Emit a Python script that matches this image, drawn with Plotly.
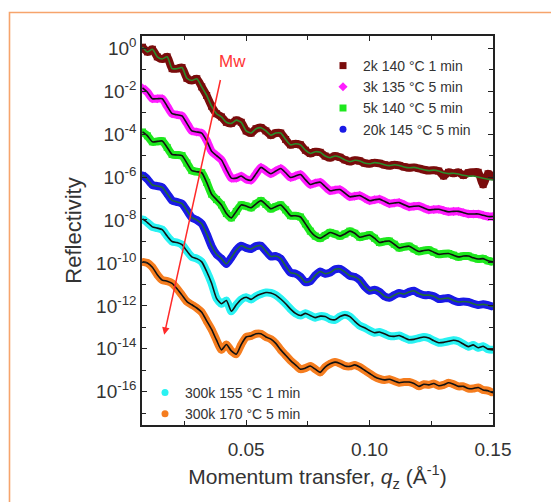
import plotly.graph_objects as go

# Momentum transfer grid (1/Å)
Q = [0.008, 0.010, 0.012, 0.014, 0.016, 0.018, 0.020, 0.022, 0.024, 0.026,
     0.028, 0.030, 0.032, 0.034, 0.036, 0.038, 0.040, 0.042, 0.044, 0.046,
     0.048, 0.050, 0.052, 0.054, 0.056, 0.058, 0.060, 0.062, 0.064, 0.066,
     0.068, 0.070, 0.072, 0.074, 0.076, 0.078, 0.080, 0.082, 0.084, 0.086,
     0.088, 0.090, 0.092, 0.094, 0.096, 0.098, 0.100, 0.102, 0.104, 0.106,
     0.108, 0.110, 0.112, 0.114, 0.116, 0.118, 0.120, 0.122, 0.124, 0.126,
     0.128, 0.130, 0.132, 0.134, 0.136, 0.138, 0.140, 0.142, 0.144, 0.146,
     0.148, 0.150]

# log10 reflectivity, curves offset by two decades each
LOG_R_2K = [0.05, -0.17, -0.05, -0.40, -0.50, -0.40, -0.95, -0.95, -0.90, -1.40,
            -1.50, -1.42, -1.80, -2.20, -2.70, -3.05, -3.20, -3.45, -3.50, -3.35,
            -3.45, -3.85, -3.95, -3.75, -3.70, -3.85, -4.05, -3.95, -3.95, -4.25,
            -4.50, -4.45, -4.50, -4.75, -4.90, -4.82, -4.85, -5.02, -5.10, -5.02,
            -5.08, -5.20, -5.28, -5.22, -5.25, -5.35, -5.38, -5.33, -5.36, -5.43,
            -5.47, -5.43, -5.46, -5.53, -5.57, -5.55, -5.60, -5.66, -5.70, -5.68,
            -5.72, -5.95, -5.78, -5.82, -5.78, -5.92, -5.80, -5.78, -5.78, -6.35,
            -5.85, -5.98]
LOG_R_2K_FIT = [0.05, -0.17, -0.05, -0.40, -0.50, -0.40, -0.95, -0.95, -0.90, -1.40,
                -1.50, -1.42, -1.80, -2.20, -2.70, -3.05, -3.20, -3.45, -3.50, -3.35,
                -3.45, -3.85, -3.95, -3.75, -3.70, -3.85, -4.05, -3.95, -3.95, -4.25,
                -4.50, -4.45, -4.50, -4.75, -4.90, -4.82, -4.85, -5.02, -5.10, -5.02,
                -5.08, -5.20, -5.28, -5.22, -5.25, -5.35, -5.38, -5.33, -5.36, -5.43,
                -5.47, -5.43, -5.46, -5.53, -5.57, -5.55, -5.60, -5.66, -5.70, -5.68,
                -5.72, -5.80, -5.84, -5.82, -5.86, -5.92, -5.96, -5.95, -6.00, -6.06,
                -6.10, -6.14]
LOG_R_3K = [-1.85, -2.05, -2.35, -2.35, -2.35, -2.70, -3.05, -3.10, -3.15, -3.50,
            -3.85, -3.90, -3.95, -4.30, -4.80, -5.00, -5.20, -5.65, -6.05, -6.05,
            -5.95, -6.10, -6.15, -5.85, -5.55, -5.70, -5.85, -5.72, -5.60, -5.80,
            -6.02, -5.95, -5.88, -6.12, -6.35, -6.28, -6.24, -6.44, -6.64, -6.60,
            -6.58, -6.75, -6.92, -6.89, -6.86, -6.98, -7.10, -7.06, -7.03, -7.13,
            -7.24, -7.21, -7.19, -7.29, -7.39, -7.36, -7.35, -7.44, -7.53, -7.51,
            -7.50, -7.56, -7.62, -7.60, -7.60, -7.66, -7.72, -7.72, -7.72, -7.78,
            -7.84, -7.84]
LOG_R_5K = [-3.90, -4.08, -4.36, -4.34, -4.32, -4.62, -4.95, -4.97, -5.00, -5.35,
            -5.70, -5.75, -5.80, -6.25, -6.80, -7.05, -7.30, -7.70, -7.90, -7.60,
            -7.30, -7.35, -7.43, -7.25, -7.10, -7.28, -7.48, -7.38, -7.30, -7.53,
            -7.80, -7.80, -7.86, -8.18, -8.52, -8.75, -8.85, -8.72, -8.58, -8.65,
            -8.75, -8.65, -8.52, -8.62, -8.80, -8.75, -8.70, -8.85, -9.05, -9.00,
            -8.98, -9.13, -9.30, -9.25, -9.22, -9.35, -9.47, -9.42, -9.40, -9.50,
            -9.60, -9.57, -9.56, -9.64, -9.72, -9.68, -9.68, -9.76, -9.82, -9.80,
            -9.90, -9.95]
LOG_R_20K = [-5.90, -6.10, -6.37, -6.42, -6.48, -6.78, -7.09, -7.16, -7.24, -7.56,
             -7.89, -8.00, -8.18, -8.65, -9.22, -9.60, -9.80, -10.05, -9.75, -9.40,
             -9.20, -9.30, -9.35, -9.22, -9.20, -9.45, -9.70, -9.68, -9.80, -10.15,
             -10.45, -10.50, -10.65, -10.90, -10.85, -10.58, -10.40, -10.50, -10.45, -10.30,
             -10.28, -10.42, -10.60, -10.65, -10.80, -11.10, -11.30, -11.25, -11.35, -11.55,
             -11.62, -11.50, -11.40, -11.45, -11.35, -11.30, -11.42, -11.50, -11.50, -11.55,
             -11.68, -11.66, -11.64, -11.75, -11.82, -11.80, -11.82, -11.90, -11.96, -11.93,
             -11.97, -12.04]
LOG_R_300K_155 = [-7.95, -8.12, -8.32, -8.38, -8.45, -8.75, -9.00, -9.05, -9.15, -9.45,
                  -9.72, -9.80, -9.95, -10.40, -10.95, -11.65, -11.90, -11.75, -12.25, -11.95,
                  -11.70, -11.60, -11.70, -11.55, -11.45, -11.38, -11.40, -11.50, -11.68, -11.90,
                  -12.15, -12.35, -12.45, -12.35, -12.45, -12.55, -12.48, -12.50, -12.62, -12.65,
                  -12.50, -12.42, -12.50, -12.72, -12.92, -13.02, -13.15, -13.25, -13.22, -13.30,
                  -13.40, -13.42, -13.38, -13.48, -13.58, -13.56, -13.50, -13.45, -13.50, -13.62,
                  -13.72, -13.70, -13.65, -13.60, -13.65, -13.78, -13.90, -13.82, -13.95, -13.88,
                  -14.02, -14.05]
LOG_R_300K_170 = [-9.95, -10.00, -10.20, -10.55, -10.80, -10.85, -10.95, -11.20, -11.50, -11.80,
                  -11.95, -12.10, -12.30, -12.70, -13.10, -13.60, -14.05, -13.80, -14.10, -14.25,
                  -13.80, -13.45, -13.40, -13.30, -13.30, -13.45, -13.55, -13.75, -14.05, -14.30,
                  -14.55, -14.75, -14.95, -14.90, -14.80, -14.95, -15.10, -14.85, -14.70, -14.62,
                  -14.68, -14.80, -14.82, -14.75, -14.85, -15.00, -15.15, -15.30, -15.40, -15.45,
                  -15.42, -15.50, -15.58, -15.55, -15.55, -15.62, -15.75, -15.65, -15.68, -15.62,
                  -15.72, -15.68, -15.58, -15.65, -15.75, -15.75, -15.85, -15.85, -15.80, -15.92,
                  -15.95, -16.05]

NAMES = ["2k 140 °C 1 min", "3k 135 °C 5 min", "5k 140 °C 5 min",
         "20k 145 °C 5 min", "300k 155 °C 1 min", "300k 170 °C 5 min"]
DATA = [LOG_R_2K, LOG_R_3K, LOG_R_5K, LOG_R_20K, LOG_R_300K_155, LOG_R_300K_170]
FITS = [LOG_R_2K_FIT, LOG_R_3K, LOG_R_5K, LOG_R_20K, LOG_R_300K_155, LOG_R_300K_170]
COLORS = ["#7a0c0c", "#ff1cff", "#1ee81e", "#1a1ae6", "#2af2f2", "#f57d1f"]
FIT_COLORS = ["#2a8c2a", "#111111", "#111111", "#1f6a3a", "#111111", "#111111"]
SYMBOLS = ["square", "diamond", "square", "circle", "circle", "circle"]
LEGENDS = ["legend", "legend", "legend", "legend", "legend2", "legend2"]

Y_TICKS = [1e0, 1e-2, 1e-4, 1e-6, 1e-8, 1e-10, 1e-12, 1e-14, 1e-16]
Y_TICKTEXT = ["10<sup>0</sup>", "10<sup>-2</sup>", "10<sup>-4</sup>", "10<sup>-6</sup>",
              "10<sup>-8</sup>", "10<sup>-10</sup>", "10<sup>-12</sup>",
              "10<sup>-14</sup>", "10<sup>-16</sup>"]
Y_MINOR = [1e-1, 1e-3, 1e-5, 1e-7, 1e-9, 1e-11, 1e-13, 1e-15, 1e-17]
X_TICKS = [0.05, 0.10, 0.15]
X_TICKTEXT = ["0.05", "0.10", "0.15"]
X_MINOR = [0.025, 0.075, 0.125]

FONT = "Liberation Sans, Arial, sans-serif"
TEXT = "#333333"
W, H = 551, 502
ML, MR, MT, MB = 142, 58, 36, 77
PW, PH = W - ML - MR, H - MT - MB


def px_x(p):
    return (p - ML) / PW


def px_y(p):
    return (H - MB - p) / PH


fig = go.Figure()
for name, d, f, c, fc, sym, lg in zip(NAMES, DATA, FITS, COLORS, FIT_COLORS, SYMBOLS, LEGENDS):
    r = [10 ** v for v in d]
    rf = [10 ** v for v in f]
    # measured points: a broad band plus markers
    fig.add_trace(go.Scatter(x=Q, y=r, mode="lines", showlegend=False, hoverinfo="skip",
                             line=dict(color=c, width=8, shape="spline", smoothing=0.6)))
    fig.add_trace(go.Scatter(x=Q, y=r, mode="markers", name=name, legend=lg,
                             marker=dict(color=c, size=7, symbol=sym, line=dict(width=0))))
    # model fit drawn on top
    fig.add_trace(go.Scatter(x=Q, y=rf, mode="lines", showlegend=False, hoverinfo="skip",
                             line=dict(color=fc, width=1.6, shape="spline", smoothing=0.6)))

axis_common = dict(showline=True, linecolor="#222222", linewidth=1.5, mirror="allticks",
                   ticks="inside", ticklen=5, tickwidth=1.3, tickcolor="#222222",
                   showgrid=False, zeroline=False,
                   tickfont=dict(family=FONT, size=19, color=TEXT))

fig.update_xaxes(range=[0.0078, 0.15], tickmode="array", tickvals=X_TICKS, ticktext=X_TICKTEXT,
                 ticklabelstandoff=6,
                 minor=dict(tickmode="array", tickvals=X_MINOR, ticks="inside", ticklen=4,
                            tickcolor="#222222", tickwidth=1.2),
                 title=dict(text="Momentum transfer, <i>q</i><sub>z</sub> (Å<sup>-1</sup>)",
                            font=dict(family=FONT, size=21, color=TEXT), standoff=11),
                 **axis_common)
fig.update_yaxes(type="log", range=[-17.55, 0.57], tickmode="array", tickvals=Y_TICKS,
                 ticktext=Y_TICKTEXT,
                 minor=dict(tickmode="array", tickvals=Y_MINOR, ticks="inside", ticklen=4,
                            tickcolor="#222222", tickwidth=1.2),
                 title=dict(text="Reflectivity", font=dict(family=FONT, size=22, color=TEXT),
                            standoff=8),
                 **axis_common)

fig.update_layout(
    width=W, height=H,
    margin=dict(l=ML, r=MR, t=MT, b=MB),
    paper_bgcolor="white", plot_bgcolor="white",
    font=dict(family=FONT, color=TEXT),
    legend=dict(x=px_x(323), y=px_y(50), xanchor="left", yanchor="top",
                bgcolor="rgba(0,0,0,0)", font=dict(family=FONT, size=14, color=TEXT),
                tracegroupgap=0),
    legend2=dict(x=px_x(145), y=px_y(377), xanchor="left", yanchor="top",
                 bgcolor="rgba(0,0,0,0)", font=dict(family=FONT, size=14, color=TEXT),
                 tracegroupgap=0),
    shapes=[dict(type="rect", xref="paper", yref="paper",
                 x0=px_x(9.5), x1=px_x(W + 20), y0=px_y(H + 20), y1=px_y(12.5),
                 line=dict(color="#f6a46c", width=1.6), fillcolor="rgba(0,0,0,0)",
                 layer="below")],
    annotations=[
        dict(x=0.0168, y=-13.35, ax=0.0397, ay=-1.41, xref="x", yref="y",
             axref="x", ayref="y", text="", showarrow=True, arrowhead=2,
             arrowsize=1, arrowwidth=1.5, arrowcolor="#ff2a2a"),
        dict(x=0.0445, y=-0.63, xref="x", yref="y", text="Mw", showarrow=False,
             font=dict(family=FONT, size=17, color="#ff3535")),
    ],
)

fig.write_html("out.html")
